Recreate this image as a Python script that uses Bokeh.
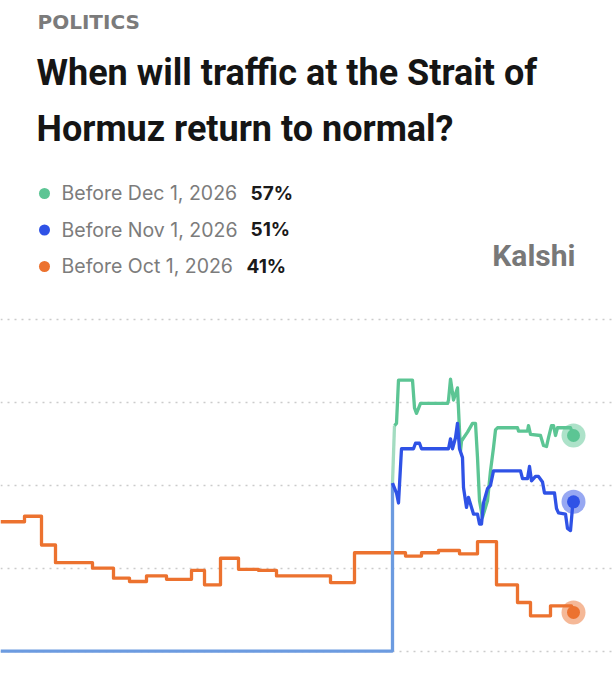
from bokeh.plotting import figure
from bokeh.models import Range1d, Grid, FixedTicker, Label
from bokeh.embed import file_html
from bokeh.resources import INLINE

# ---------------- data (time index, probability %) ----------------
category = "POLITICS"
title_lines = ["When will traffic at the Strait of", "Hormuz return to normal?"]
brand = "Kalshi"

series_labels = ["Before Dec 1, 2026", "Before Nov 1, 2026", "Before Oct 1, 2026"]
series_pct = ["57%", "51%", "41%"]
series_colors = ["#5cc594", "#2f52e6", "#ec722f"]

grid_ticks = [37.5, 45, 52.5, 60, 67.5]

# Before Oct 1, 2026 (step series)
oct_t = [0, 24, 41, 55, 92, 113, 129, 146, 166, 191, 204, 220, 238, 258, 276,
         330, 354, 405, 421, 438, 459, 477, 496, 517, 530, 550, 571, 573]
oct_v = [49.2, 49.7, 47.1, 45.5, 45.0, 44.1, 43.8, 44.3, 44.0, 44.8, 43.5, 45.9, 44.9, 44.8, 44.3,
         43.7, 46.4, 46.1, 46.4, 46.6, 46.3, 47.4, 43.5, 41.9, 40.7, 41.6, 41.0, 41.0]

# Before Nov 1, 2026 (no market before listing -> floor value)
nov_pre_t = [0, 392, 392]
nov_pre_v = [37.5, 37.5, 52.7]
nov_t = [392, 396, 398, 401, 413, 415, 419, 421, 448, 450, 452, 455, 457, 459, 462, 463,
         466, 468, 471, 473, 477, 479, 481, 483, 487, 490, 493, 520, 522, 527, 529, 531,
         535, 538, 542, 544, 554, 556, 558, 565, 567, 570, 572, 573]
nov_v = [52.7, 51.8, 50.9, 55.8, 55.8, 56.3, 56.3, 55.8, 55.8, 56.7, 55.8, 56.8, 58.1, 55.8, 55.0, 52.3,
         50.5, 51.4, 50.5, 49.9, 49.9, 49.0, 49.0, 50.9, 52.2, 52.5, 53.8, 53.8, 53.1, 53.1, 54.2, 52.9,
         53.3, 53.3, 52.8, 51.8, 51.8, 50.4, 50.0, 49.9, 48.6, 48.4, 50.5, 51.0]

# Before Dec 1, 2026
dec_pre_t = [392, 394]
dec_pre_v = [52.7, 57.9]
dec_t = [394, 396, 398, 412, 414, 416, 420, 447, 448, 450, 453, 457, 459, 460, 461, 467,
         472, 475, 477, 479, 482, 487, 490, 493, 495, 497, 517, 518, 527, 528, 530, 540,
         543, 546, 548, 551, 553, 555, 557, 570, 573]
dec_v = [57.9, 58.1, 62.0, 62.0, 59.5, 59.0, 59.9, 59.9, 60.2, 62.1, 60.2, 61.3, 57.5, 55.6, 56.5, 57.3,
         58.1, 58.1, 55.0, 51.1, 49.6, 51.1, 53.8, 55.9, 57.5, 57.7, 57.7, 57.4, 57.4, 57.9, 57.1, 57.0,
         56.1, 56.0, 56.8, 57.9, 57.9, 57.0, 57.7, 57.7, 57.0]

# ---------------- figure ----------------
W, H = 612, 678
PX_PER_PCT = 11.06


def v_at(Y):
    # vertical page position -> value
    return 57 - (Y - 435) / PX_PER_PCT


p = figure(width=W, height=H, x_range=Range1d(0, W), y_range=Range1d(v_at(H), v_at(0)),
           x_axis_type=None, y_axis_type=None, toolbar_location=None,
           output_backend="svg", min_border=0, outline_line_color=None)
p.background_fill_color = "white"
p.border_fill_color = "white"

p.add_layout(Grid(dimension=1, ticker=FixedTicker(ticks=grid_ticks),
                  grid_line_color="#cbcbcb", grid_line_dash="2 5", grid_line_width=1.5))

LW = 3.3
p.step(oct_t, oct_v, mode="after", line_color=series_colors[2], line_width=LW, line_join="round")
p.line(nov_pre_t, nov_pre_v, line_color="#6c9be0", line_width=LW)
p.line(dec_pre_t, dec_pre_v, line_color="#a3dcc1", line_width=LW)
p.line(dec_t, dec_v, line_color=series_colors[0], line_width=LW, line_join="round")
p.line(nov_t, nov_v, line_color=series_colors[1], line_width=LW, line_join="round")

ends = [(dec_t[-1], dec_v[-1]), (nov_t[-1], nov_v[-1]), (oct_t[-1], oct_v[-1])]
for (et, ev), c in zip(ends, series_colors):
    p.scatter([et], [ev], size=24, fill_color=c, fill_alpha=0.5, line_color=None)
    p.scatter([et], [ev], size=13, fill_color=c, line_color=None)


# ---------------- header text ----------------
def sy(Y):
    return H - Y


def label(x, baseline_Y, text, font, size, color, bold=False, align="left"):
    # empirical correction: rendered baseline sits ~0.4em below the requested y
    return Label(x=x, y=sy(baseline_Y - 0.4 * size), x_units="screen", y_units="screen",
                 text=text, text_font=font, text_font_style="bold" if bold else "normal",
                 text_font_size=f"{size}px", text_color=color, text_align=align,
                 text_baseline="alphabetic")


p.add_layout(label(37, 29, category, "DejaVu Sans", 20, "#7b7b7b", bold=True))

for i, line in enumerate(title_lines):
    p.add_layout(label(36, 87 + 56 * i, line, "Roboto", 36, "#151515", bold=True))

leg_Y = [193, 229.5, 266]
pct_X = [250, 250, 246]
for i in range(3):
    p.scatter([44], [v_at(leg_Y[i])], size=11, fill_color=series_colors[i], line_color=None)
    p.add_layout(label(61, leg_Y[i] + 7.5, series_labels[i], "Inter", 19.5, "#7c7c7c"))
    p.add_layout(label(pct_X[i], leg_Y[i] + 7.5, series_pct[i], "Inter", 19, "#1a1a1a", bold=True))

p.add_layout(label(575, 267, brand, "Roboto", 30, "#787878", bold=True, align="right"))

open("out.html", "w").write(file_html(p, INLINE))
